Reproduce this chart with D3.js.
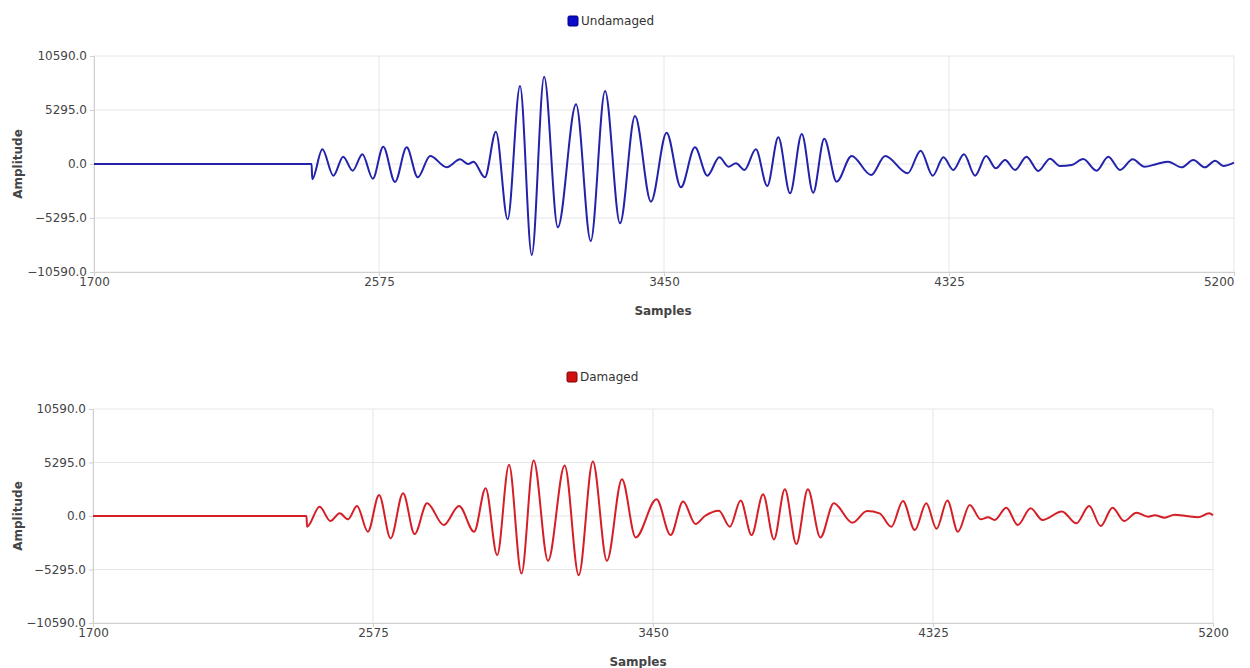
<!DOCTYPE html>
<html>
<head>
<meta charset="utf-8">
<script src="https://cdn.jsdelivr.net/npm/d3@7"></script>
<style>
  body { margin: 0; background: #fff; }
  text { font-family: "DejaVu Sans", Verdana, sans-serif; }
  .tick text { fill: #444; font-size: 12px; }
  .axisLabel { font-size: 12px; font-weight: bold; fill: #444; }
</style>
</head>
<body>
<div id="chart"></div>
<script>
// axis ticks
var xTicks = [1700, 2575, 3450, 4325, 5200];
var yTicks = [-10590, -5295, 0, 5295, 10590];

// peaks / troughs (sample index, amplitude)
var undamagedSamples = [1700, 2368, 2370, 2401, 2435, 2465, 2494, 2524, 2556, 2588, 2624, 2660, 2694, 2732, 2783, 2824, 2849, 2865, 2900, 2934,
  2970, 3008, 3044, 3082, 3124, 3180, 3225, 3269, 3315, 3361, 3410, 3458, 3502, 3545, 3583, 3620, 3648, 3671, 3697, 3732,
  3767, 3801, 3837, 3873, 3908, 3942, 3980, 4026, 4086, 4129, 4198, 4238, 4275, 4308, 4338, 4371, 4405, 4439, 4469, 4497,
  4528, 4563, 4599, 4635, 4666, 4702, 4737, 4778, 4814, 4850, 4889, 4925, 4963, 4998, 5039, 5075, 5111, 5142, 5167, 5200];
var undamagedAmps = [0, 0, -1471, 1441, -1144, 719, -654, 948, -1438, 1700, -1765, 1634, -1307, 784, -327, 458, 0, 229, -1307, 3170,
  -5425, 7649, -8923, 8563, -6211, 5851, -7551, 7158, -5818, 4707, -3693, 3072, -2288, 1634, -1144, 654, -262, 65, -588, 1438,
  -2157, 2614, -2876, 2942, -2811, 2484, -1733, 784, -1079, 784, -915, 1307, -1144, 654, -588, 948, -1144, 784, -425, 392,
  -588, 719, -686, 523, -196, -98, 490, -654, 719, -588, 458, -262, 0, 229, -327, 392, -327, 327, -196, 131];

var damagedSamples = [1700, 2367, 2369, 2408, 2442, 2471, 2497, 2525, 2559, 2594, 2630, 2669, 2705, 2744, 2796, 2844, 2891, 2927, 2963, 3000,
  3039, 3077, 3122, 3174, 3218, 3262, 3306, 3353, 3396, 3461, 3505, 3544, 3583, 3612, 3656, 3690, 3724, 3758, 3794, 3828,
  3862, 3898, 3934, 3973, 4015, 4073, 4119, 4158, 4195, 4231, 4268, 4304, 4336, 4370, 4403, 4440, 4474, 4497, 4518, 4554,
  4590, 4630, 4667, 4728, 4773, 4813, 4849, 4886, 4922, 4961, 4997, 5018, 5049, 5080, 5117, 5153, 5188, 5200];
var damagedAmps = [0, 0, -1060, 927, -497, 265, -331, 993, -1556, 2086, -2219, 2252, -1788, 1258, -894, 993, -1556, 2749, -3874, 5066,
  -5696, 5496, -4437, 5000, -5861, 5397, -4437, 3643, -2119, 1656, -1887, 1424, -795, 0, 530, -1060, 1523, -1887, 2152, -2318,
  2649, -2782, 2649, -2119, 1258, -662, 497, 265, -1060, 1490, -1391, 1258, -1258, 1523, -1556, 1093, -331, -132, -397, 828,
  -894, 762, -397, 450, -729, 993, -993, 828, -497, 331, -66, 66, -166, 132, 0, -132, 265, 66];

var svg = d3.select("#chart")
  .append("svg")
  .attr("width", 1250)
  .attr("height", 668);

function drawPanel(opts) {
  var width = opts.right - opts.left;
  var height = opts.bottom - opts.top;

  var xScale = d3.scaleLinear().domain([1700, 5200]).range([0, width]);
  var yScale = d3.scaleLinear().domain([-10590, 10590]).range([height, 0]);

  var g = svg.append("g")
    .attr("transform", `translate(${opts.left}, ${opts.top})`);

  // grid lines
  g.append("g").selectAll("line")
    .data(xTicks).enter().append("line")
    .attr("x1", d => xScale(d)).attr("x2", d => xScale(d))
    .attr("y1", 0).attr("y2", height)
    .attr("stroke", "#e6e6e6");
  g.append("g").selectAll("line")
    .data(yTicks).enter().append("line")
    .attr("x1", 0).attr("x2", width)
    .attr("y1", d => yScale(d)).attr("y2", d => yScale(d))
    .attr("stroke", "#e6e6e6");

  var bottomAxis = d3.axisBottom(xScale).tickValues(xTicks).tickSize(4).tickPadding(1).tickFormat(d3.format("d"));
  var leftAxis = d3.axisLeft(yScale).tickValues(yTicks).tickSize(4).tickPadding(3).tickFormat(d3.format(".1f"));

  var xa = g.append("g")
    .attr("transform", `translate(0, ${height})`)
    .call(bottomAxis);
  var ya = g.append("g").call(leftAxis);
  [xa, ya].forEach(function(a) {
    a.select(".domain").attr("stroke", "#d0d0d0");
    a.selectAll(".tick line").attr("stroke", "#d0d0d0");
    a.attr("font-size", null).attr("font-family", null);
  });
  // keep the last x label inside the window when the plot runs to the edge
  if (opts.clampLast) {
    xa.selectAll(".tick text").filter(d => d === 5200).attr("text-anchor", "end");
  }

  // signal
  var pts = opts.samples.map((s, i) => [s, opts.amps[i]]);
  var line = d3.line()
    .x(d => xScale(d[0]))
    .y(d => yScale(d[1]))
    .curve(d3.curveMonotoneX);
  g.append("path")
    .datum(pts)
    .attr("fill", "none")
    .attr("stroke", opts.color)
    .attr("stroke-width", 2)
    .attr("stroke-linejoin", "round")
    .attr("d", line);

  // legend
  svg.append("rect")
    .attr("x", opts.legendX).attr("y", opts.legendY - 5)
    .attr("width", 10).attr("height", 10)
    .attr("rx", 1.5)
    .attr("fill", opts.legendColor)
    .attr("stroke", opts.legendStroke);
  svg.append("text")
    .attr("x", opts.legendX + 13).attr("y", opts.legendY)
    .attr("dy", "0.35em")
    .attr("font-size", "12px")
    .attr("fill", "#333")
    .text(opts.name);

  // axis labels
  svg.append("text")
    .attr("class", "axisLabel")
    .attr("transform", `translate(22, ${opts.top + height / 2}) rotate(-90)`)
    .attr("text-anchor", "middle")
    .text("Amplitude");
  svg.append("text")
    .attr("class", "axisLabel")
    .attr("x", opts.samplesX)
    .attr("y", opts.bottom + 43)
    .attr("text-anchor", "middle")
    .text("Samples");
}

drawPanel({
  name: "Undamaged", samples: undamagedSamples, amps: undamagedAmps,
  left: 94, right: 1234, top: 56, bottom: 272,
  color: "#2222aa", legendColor: "#0a0ac8", legendStroke: "#000080",
  legendX: 568, legendY: 21, samplesX: 663, clampLast: true
});
drawPanel({
  name: "Damaged", samples: damagedSamples, amps: damagedAmps,
  left: 93, right: 1213, top: 409, bottom: 623,
  color: "#d41f26", legendColor: "#d01010", legendStroke: "#800000",
  legendX: 567, legendY: 377, samplesX: 638, clampLast: false
});
</script>
</body>
</html>
